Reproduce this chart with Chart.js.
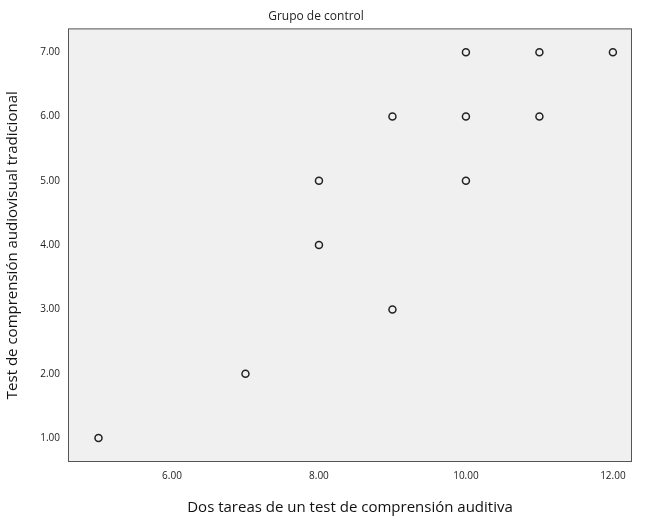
<!DOCTYPE html>
<html>
<head>
<meta charset="utf-8">
<script src="https://cdn.jsdelivr.net/npm/chart.js@4/dist/chart.umd.min.js"></script>
<style>
  html, body { margin: 0; padding: 0; background: #fff; }
  #wrap { width: 650px; height: 521px; }
</style>
</head>
<body>
<div id="wrap"><canvas id="chart"></canvas></div>
<script>
const xValues = [5, 7, 8, 8, 9, 9, 10, 10, 10, 11, 11, 12];
const yValues = [1, 2, 4, 5, 3, 6, 5, 6, 7, 6, 7, 7];
const xTicks = [6, 8, 10, 12];
const yTicks = [1, 2, 3, 4, 5, 6, 7];

const plotBg = {
  id: "plotBg",
  beforeDraw(chart) {
    const { ctx, chartArea: a } = chart;
    ctx.save();
    ctx.fillStyle = "#f0f0f0";
    ctx.fillRect(a.left, a.top, a.width, a.height);
    ctx.restore();
  },
  afterDraw(chart) {
    const { ctx, chartArea: a } = chart;
    ctx.save();
    ctx.strokeStyle = "#555";
    ctx.lineWidth = 1;
    ctx.strokeRect(a.left + 0.5, a.top + 0.5, a.width - 1, a.height - 1);
    ctx.restore();
  }
};

const fmt = v => Number(v).toFixed(2);

new Chart(document.getElementById("chart"), {
  type: "scatter",
  data: {
    datasets: [{
      data: xValues.map((x, i) => ({ x: x, y: yValues[i] })),
      pointRadius: 3.5,
      pointBorderWidth: 1.5,
      pointBorderColor: "#222",
      pointBackgroundColor: "rgba(0,0,0,0)"
    }]
  },
  options: {
    responsive: true,
    maintainAspectRatio: false,
    animation: false,
    layout: { padding: { right: 18 } },
    plugins: {
      legend: { display: false },
      tooltip: { enabled: false },
      title: {
        display: true,
        text: "Grupo de control",
        color: "#222",
        font: { family: "Open Sans", size: 12, weight: "normal" },
        padding: { top: 9, bottom: 5 }
      }
    },
    scales: {
      x: {
        type: "linear",
        min: 4.585, max: 12.26,
        afterBuildTicks: s => { s.ticks = xTicks.map(v => ({ value: v })); },
        afterFit: s => { s.height = 59; },
        grid: { display: false, drawTicks: true, tickLength: 5, tickColor: "#555" },
        border: { display: false },
        ticks: { callback: fmt, color: "#222", font: { family: "Open Sans", size: 10 }, maxRotation: 0 },
        title: {
          display: true,
          text: "Dos tareas de un test de comprensión auditiva",
          color: "#111",
          font: { family: "Open Sans", size: 15 },
          padding: { top: 2 }
        }
      },
      y: {
        type: "linear",
        min: 0.627, max: 7.37,
        afterBuildTicks: s => { s.ticks = yTicks.map(v => ({ value: v })); },
        afterFit: s => { s.width = 68; },
        grid: { display: false, drawTicks: true, tickLength: 5, tickColor: "#555" },
        border: { display: false },
        ticks: { callback: fmt, color: "#222", font: { family: "Open Sans", size: 10 } },
        title: {
          display: true,
          text: "Test de comprensión audiovisual tradicional",
          color: "#111",
          font: { family: "Open Sans", size: 15 },
          padding: { bottom: 2 }
        }
      }
    }
  },
  plugins: [plotBg]
});
</script>
</body>
</html>
